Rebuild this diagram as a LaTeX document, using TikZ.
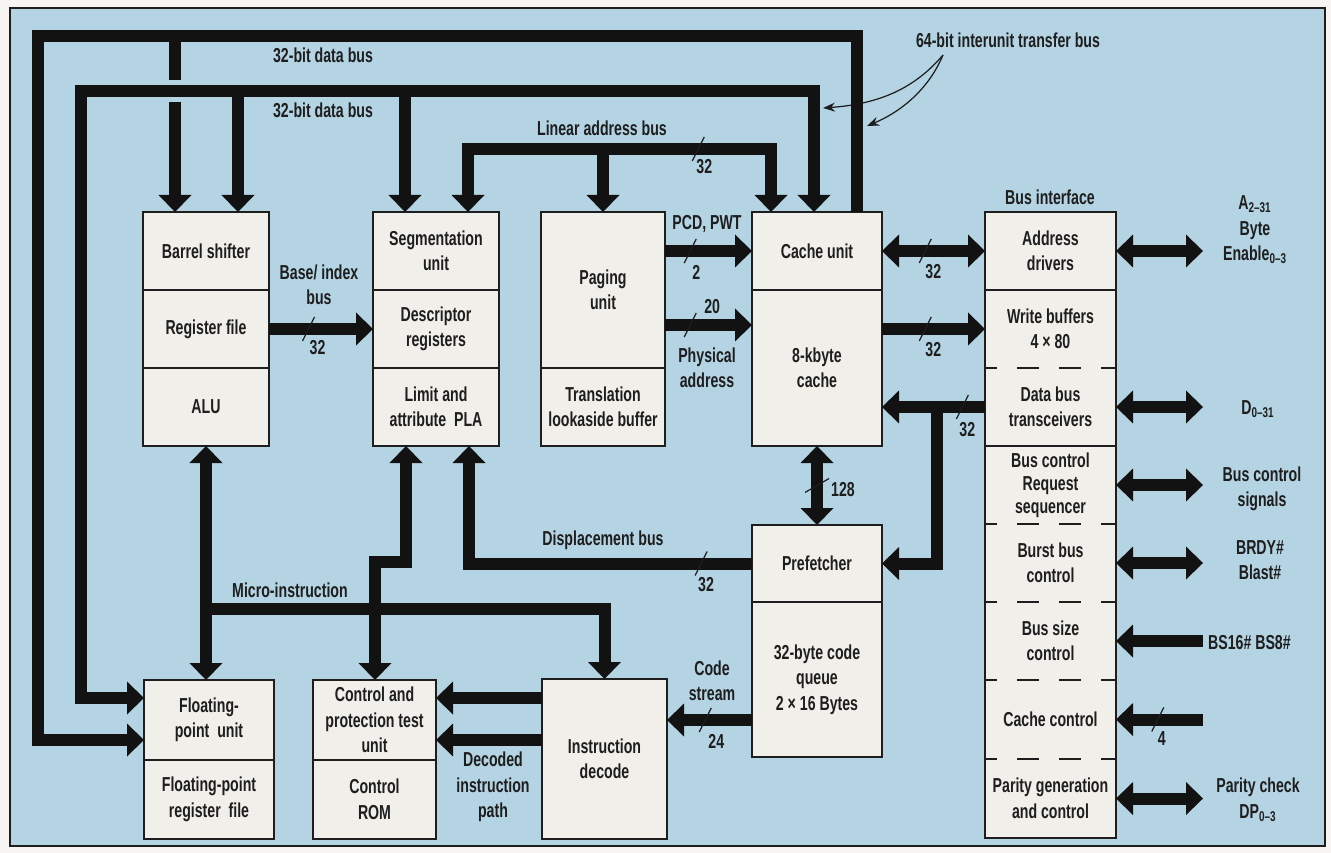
\documentclass[tikz,border=0pt]{standalone}
\usepackage{fontspec}
\setmainfont{Liberation Sans}[FakeStretch=0.7]
\usepackage{xcolor}
\usepackage{tikz}
\usetikzlibrary{positioning, arrows.meta, calc}

\definecolor{panelblue}{RGB}{180,212,228}
\definecolor{boxfill}{RGB}{241,239,233}
\definecolor{ink}{RGB}{30,30,30}
\definecolor{busblack}{RGB}{18,18,18}
\definecolor{paper}{RGB}{246,245,241}

\newcommand{\slashmark}[1]{\draw[tick] ([shift={(-6,12)}]#1) -- ([shift={(6,-12)}]#1);}

\begin{document}
\begin{tikzpicture}[x=0.2mm, y=-0.2mm,
    font=\fontsize{11.5}{14.5}\selectfont\bfseries,
    sect/.style={fill=boxfill, inner sep=0pt, outer sep=0pt, align=center, text=ink},
    frame/.style={draw=ink, line width=0.8pt},
    softrule/.style={draw=ink, line width=0.8pt, dash pattern=on 4.4mm off 4mm, dash phase=2mm},
    bus/.style={draw=busblack, line width=2.4mm, >={Triangle[width=6.6mm,length=3.4mm,line width=0pt]}},
    tick/.style={draw=ink, line width=0.7pt},
    lbl/.style={text=ink, align=center, inner sep=1pt},
    note/.style={draw=ink, line width=0.7pt, -{Stealth[length=2.4mm,width=1.8mm]}}]

    % Fond
    \useasboundingbox (0,0) rectangle (1331,853);
    \fill[paper] (0,0) rectangle (1331,853);
    \draw[line width=0.8pt, draw=ink, fill=panelblue] (10,8) rectangle (1325,846);

    % Barrel shifter / register file / ALU
    \node[sect, minimum width=25.2mm, minimum height=15.6mm] (barrel) at (206,251) {Barrel shifter};
    \node[sect, minimum width=25.2mm, minimum height=15.6mm, below=0pt of barrel] (regfile) {Register file};
    \node[sect, minimum width=25.2mm, minimum height=15.6mm, below=0pt of regfile] (alu) {ALU};
    \draw[frame] (barrel.north west) rectangle (alu.south east);
    \draw[frame] (barrel.south west) -- (barrel.south east);
    \draw[frame] (regfile.south west) -- (regfile.south east);

    % Segmentation
    \node[sect, minimum width=25.2mm, minimum height=15.6mm] (seg) at (436,251) {Segmentation\\unit};
    \node[sect, minimum width=25.2mm, minimum height=15.6mm, below=0pt of seg] (descr) {Descriptor\\registers};
    \node[sect, minimum width=25.2mm, minimum height=15.6mm, below=0pt of descr] (pla) {Limit and\\attribute\ \ PLA};
    \draw[frame] (seg.north west) rectangle (pla.south east);
    \draw[frame] (seg.south west) -- (seg.south east);
    \draw[frame] (descr.south west) -- (descr.south east);

    % Paging
    \node[sect, minimum width=24.8mm, minimum height=31.2mm] (paging) at (603,290) {Paging\\unit};
    \node[sect, minimum width=24.8mm, minimum height=15.6mm, below=0pt of paging] (tlb) {Translation\\lookaside buffer};
    \draw[frame] (paging.north west) rectangle (tlb.south east);
    \draw[frame] (paging.south west) -- (paging.south east);

    % Cache
    \node[sect, minimum width=26mm, minimum height=15.6mm] (cacheu) at (817,251) {Cache unit};
    \node[sect, minimum width=26mm, minimum height=31.2mm, below=0pt of cacheu] (cache) {8-kbyte\\cache};
    \draw[frame] (cacheu.north west) rectangle (cache.south east);
    \draw[frame] (cacheu.south west) -- (cacheu.south east);

    % Bus interface
    \node[lbl] (bilbl) at (1050,197) {Bus interface};
    \node[sect, minimum width=26.2mm, minimum height=15.6mm] (addr) at (1050.5,251) {Address\\drivers};
    \node[sect, minimum width=26.2mm, minimum height=15.6mm, below=0pt of addr] (wbuf) {Write buffers\\4 × 80};
    \node[sect, minimum width=26.2mm, minimum height=15.6mm, below=0pt of wbuf] (dbt) {Data bus\\transceivers};
    \node[sect, minimum width=26.2mm, minimum height=15.6mm, below=0pt of dbt, font=\fontsize{11.5}{13}\selectfont\bfseries] (bctl) {Bus control\\Request\\sequencer};
    \node[sect, minimum width=26.2mm, minimum height=15.6mm, below=0pt of bctl] (burst) {Burst bus\\control};
    \node[sect, minimum width=26.2mm, minimum height=15.6mm, below=0pt of burst] (bsize) {Bus size\\control};
    \node[sect, minimum width=26.2mm, minimum height=15.8mm, below=0pt of bsize] (cctl) {Cache control};
    \node[sect, minimum width=26.2mm, minimum height=15.8mm, below=0pt of cctl] (parity) {Parity generation\\and control};
    \draw[frame] (addr.north west) rectangle (parity.south east);
    \draw[frame] (addr.south west) -- (addr.south east);
    \draw[frame] (dbt.south west) -- (dbt.south east);
    \draw[softrule] (wbuf.south west) -- (wbuf.south east);
    \draw[softrule] (bctl.south west) -- (bctl.south east);
    \draw[softrule] (burst.south west) -- (burst.south east);
    \draw[softrule] (bsize.south west) -- (bsize.south east);
    \draw[softrule] (cctl.south west) -- (cctl.south east);

    % Prefetcher
    \node[sect, minimum width=26mm, minimum height=15.4mm] (prefetch) at (817,563.5) {Prefetcher};
    \node[sect, minimum width=26mm, minimum height=31mm, below=0pt of prefetch] (queue) {32-byte code\\queue\\2 × 16 Bytes};
    \draw[frame] (prefetch.north west) rectangle (queue.south east);
    \draw[frame] (prefetch.south west) -- (prefetch.south east);

    % Instruction decode
    \node[sect, minimum width=25mm, minimum height=32mm] (idec) at (604.5,759) {Instruction\\decode};
    \draw[frame] (idec.north west) rectangle (idec.south east);

    % Floating-point
    \node[sect, minimum width=26mm, minimum height=16mm] (fpu) at (209,720) {Floating-\\point\ \ unit};
    \node[sect, minimum width=26mm, minimum height=15.8mm, below=0pt of fpu] (fpreg) {Floating-point\\register\ \ file};
    \draw[frame] (fpu.north west) rectangle (fpreg.south east);
    \draw[frame] (fpu.south west) -- (fpu.south east);

    % Control
    \node[sect, minimum width=24.6mm, minimum height=16mm] (ctrl) at (374.5,720) {Control and\\protection test\\unit};
    \node[sect, minimum width=24.6mm, minimum height=15.8mm, below=0pt of ctrl] (crom) {Control\\ROM};
    \draw[frame] (ctrl.north west) rectangle (crom.south east);
    \draw[frame] (ctrl.south west) -- (ctrl.south east);

    % Points de passage
    \coordinate (dbo) at (38,36);
    \coordinate (dbor) at (857,36);
    \coordinate (dbi) at (81,91);
    \coordinate (dbir) at (814,91);
    \coordinate (br0) at (175,36);
    \coordinate (br1) at (238,91);
    \coordinate (br2) at (405,91);
    \coordinate (fpin1) at (0,698);
    \coordinate (fpin2) at (0,740);
    \coordinate (la1) at (468,149);
    \coordinate (la2) at (771,149);
    \coordinate (la3) at (603,149);
    \coordinate (phy) at (0,325);
    \coordinate (dbx) at (937,0);
    \coordinate (dsx) at (469,0);
    \coordinate (cs) at (0,720);
    \coordinate (dp1) at (0,698);
    \coordinate (dp2) at (0,740);
    \coordinate (mi) at (0,609);
    \coordinate (cp1) at (406,562);
    \coordinate (cp2) at (375,562);
    \coordinate (pin) at (1203,0);
    \coordinate (n64) at (943,55);

    % 64-bit transfer bus pointers
    \node[lbl] (lab64) at (1008,40) {64-bit interunit transfer bus};
    \draw[note] (n64) .. controls (915,88) and (880,104) .. (823,108);
    \draw[note] (n64) .. controls (930,86) and (905,110) .. (867,126);

    % Data buses
    \draw[bus, ->] (dbor |- cacheu.north) -- (dbor) -- (dbo) -- (dbo |- fpin2) -- (fpu.west |- fpin2);
    \draw[bus, <->] (dbir |- cacheu.north) -- (dbir) -- (dbi) -- (dbi |- fpin1) -- (fpu.west |- fpin1);
    \draw[bus] (br0) -- ($(br0)+(0,44)$);
    \draw[bus, ->] ($(br0)+(0,66)$) -- (br0 |- barrel.north);
    \draw[bus, ->] (br1) -- (br1 |- barrel.north);
    \draw[bus, ->] (br2) -- (br2 |- seg.north);
    \node[lbl] (db1) at (323,55) {32-bit data bus};
    \node[lbl] (db2) at (323,110) {32-bit data bus};

    % Linear address bus
    \draw[bus, <->] (la1 |- seg.north) -- (la1) -- (la2) coordinate[pos=0.76] (lat) -- (la2 |- cacheu.north);
    \draw[bus, ->] (la3) -- (paging.north);
    \slashmark{lat}
    \node[lbl] at ([shift={(6,18)}]lat) {32};
    \node[lbl] (lalbl) at (602,128) {Linear address bus};

    % Base/index
    \draw[bus, ->] (regfile.east) -- (descr.west) coordinate[pos=0.38] (bit);
    \slashmark{bit}
    \node[lbl] at ([shift={(9,19)}]bit) {32};
    \node[lbl] (bilab) at (319,285) {Base/ index\\bus};

    % Paging -> cache
    \draw[bus, ->] (paging.east |- cacheu.east) -- (cacheu.west) coordinate[pos=0.29] (pcdt);
    \slashmark{pcdt}
    \node[lbl] at ([shift={(6,21)}]pcdt) {2};
    \node[lbl] (pcdlbl) at (707,224) {PCD, PWT};
    \draw[bus, ->] (paging.east |- phy) -- (cache.west |- phy) coordinate[pos=0.29] (phyt);
    \slashmark{phyt}
    \node[lbl] at ([shift={(22,-18)}]phyt) {20};
    \node[lbl] (phylbl) at (707,368) {Physical\\address};

    % Cache <-> bus interface
    \draw[bus, <->] (cacheu.east) -- (addr.west) coordinate[pos=0.42] (adt);
    \slashmark{adt}
    \node[lbl] at ([shift={(8,21)}]adt) {32};
    \draw[bus, ->] (cache.east |- wbuf.west) -- (wbuf.west) coordinate[pos=0.42] (wbt);
    \slashmark{wbt}
    \node[lbl] at ([shift={(8,21)}]wbt) {32};
    \draw[bus, ->] (dbt.west) -- (cache.east |- dbt.west) coordinate[pos=0.22] (dbtt);
    \slashmark{dbtt}
    \node[lbl] at ([shift={(5,23)}]dbtt) {32};
    \draw[bus, ->] (dbx |- dbt.west) -- (dbx |- prefetch.east) -- (prefetch.east);

    % Cache <-> prefetcher
    \draw[bus, <->] (cache.south) -- (prefetch.north) coordinate[pos=0.5] (qt);
    \draw[tick] ([shift={(-12,7)}]qt) -- ([shift={(12,-7)}]qt);
    \node[lbl] at ([shift={(26,4)}]qt) {128};

    % Displacement bus
    \draw[bus, ->] (prefetch.west) -- (dsx |- prefetch.west) coordinate[pos=0.18] (dst) -- (dsx |- pla.south);
    \slashmark{dst}
    \node[lbl] at ([shift={(5,21)}]dst) {32};
    \node[lbl] (dslbl) at (603,540) {Displacement bus};

    % Code stream
    \draw[bus, ->] (queue.west |- cs) -- (idec.east |- cs) coordinate[pos=0.55] (cst);
    \slashmark{cst}
    \node[lbl] at ([shift={(11,21)}]cst) {24};
    \node[lbl] (cslbl) at (712,681) {Code\\stream};

    % Decoded instruction path
    \draw[bus, ->] (idec.west |- dp1) -- (ctrl.east |- dp1);
    \draw[bus, ->] (idec.west |- dp2) -- (ctrl.east |- dp2);
    \node[lbl] (dplbl) at (493,787) {Decoded\\instruction\\path};

    % Micro-instruction
    \draw[bus, <->] (alu.south) -- (alu.south |- fpu.north);
    \draw[bus, ->] (alu.south |- mi) -- (idec.north |- mi) -- (idec.north);
    \draw[bus, <->] (cp1 |- pla.south) -- (cp1) -- (cp2) -- (cp2 |- ctrl.north);
    \node[lbl] (milbl) at (290,590) {Micro-instruction};

    % External pins
    \draw[bus, <->] (addr.east) -- (pin |- addr.east);
    \draw[bus, <->] (dbt.east) -- (pin |- dbt.east);
    \draw[bus, <->] (bctl.east) -- (pin |- bctl.east);
    \draw[bus, <->] (burst.east) -- (pin |- burst.east);
    \draw[bus, <-] (bsize.east) -- (pin |- bsize.east);
    \draw[bus, <-] (cctl.east) -- (pin |- cctl.east) coordinate[pos=0.48] (cct);
    \draw[bus, <->] (parity.east) -- (pin |- parity.east);
    \slashmark{cct}
    \node[lbl] at ([shift={(4,19)}]cct) {4};

    \node[lbl] (pa) at (1255,230) {A\textsubscript{2–31}\\Byte\\Enable\textsubscript{0–3}};
    \node[lbl] (pd) at (1258,409) {D\textsubscript{0–31}};
    \node[lbl] (pbc) at (1262,489) {Bus control\\signals};
    \node[lbl] (pbr) at (1260,560) {BRDY\#\\Blast\#};
    \node[lbl, anchor=west] (pbs) at (1206,643) {BS16\# BS8\#};
    \node[lbl] (ppc) at (1258,800) {Parity check\\DP\textsubscript{0–3}};
\end{tikzpicture}
\end{document}
